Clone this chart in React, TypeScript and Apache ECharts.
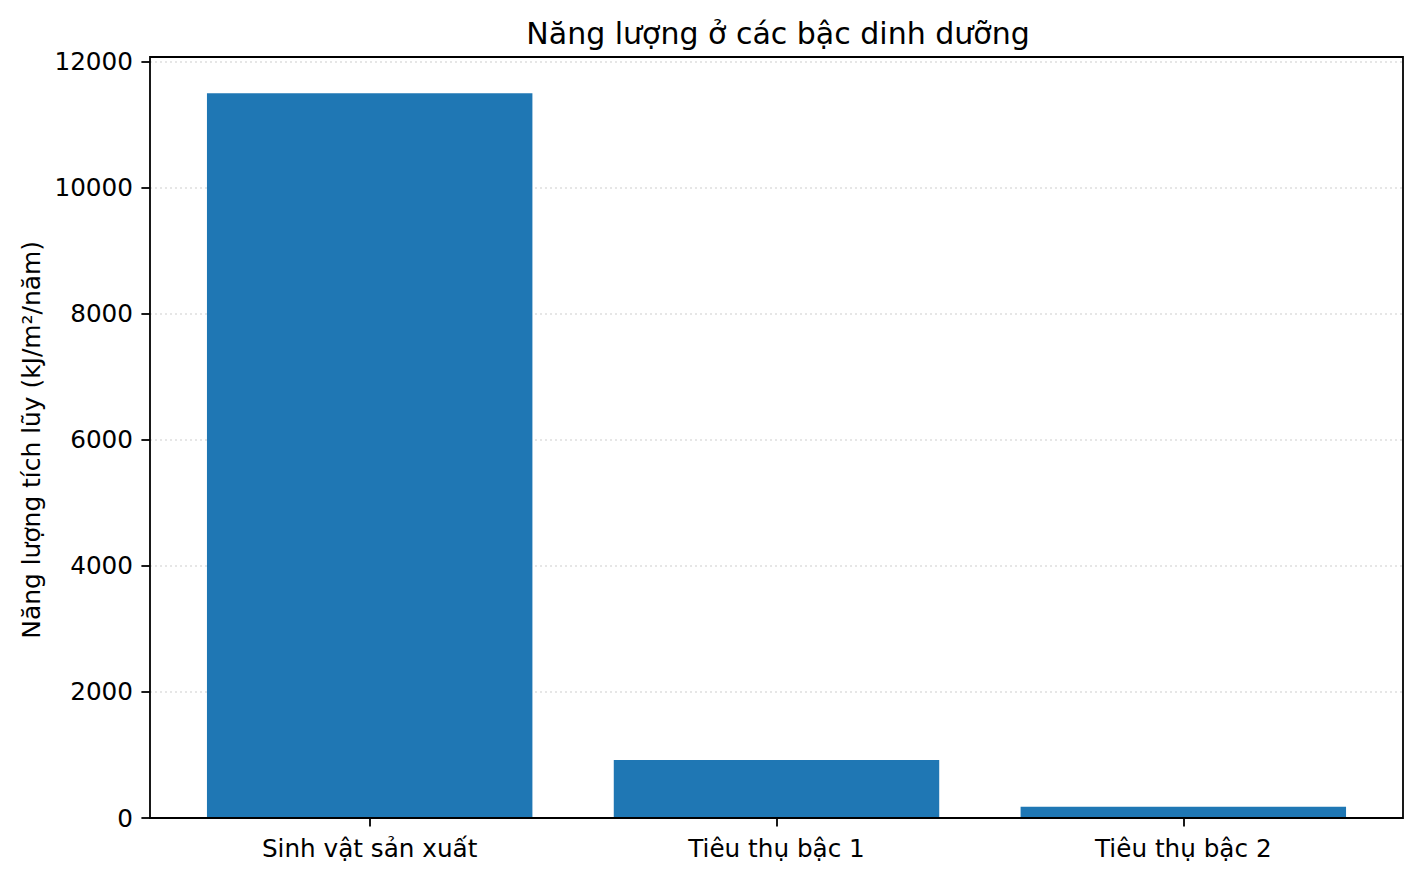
import { useEffect, useRef } from 'react';
import * as echarts from 'echarts';

const categories = ['Sinh vật sản xuất', 'Tiêu thụ bậc 1', 'Tiêu thụ bậc 2'];
const energy = [11500, 920, 180];

const FONT = '"DejaVu Sans", sans-serif';

// frame of the plot (matplotlib-like axes box)
const frame = { x: 150, y: 57, width: 1253, height: 761 };

export default function App() {
  const chartRef = useRef<HTMLDivElement>(null);

  useEffect(() => {
    if (!chartRef.current) return;
    document.body.style.margin = '0';

    const chart = echarts.init(chartRef.current, undefined, { renderer: 'svg' });

    // reference y range is 0..12075; the axis here stops at 12000
    const yTop = frame.y + frame.height * (75 / 12075);
    // reference x range is -0.54..2.54 around 3 bands (-0.5..2.5)
    const pad = (frame.width / 3.08) * 0.04;
    const right = 1421 - (frame.x + frame.width);
    const bottom = 879 - (frame.y + frame.height);

    const option: echarts.EChartsOption = {
      animation: false,
      backgroundColor: '#ffffff',
      title: {
        text: 'Năng lượng ở các bậc dinh dưỡng',
        left: 773,
        textAlign: 'center',
        top: 13,
        textStyle: {
          fontFamily: FONT,
          fontSize: 30,
          fontWeight: 'normal',
          color: '#000',
        },
      },
      grid: [
        { left: frame.x, right, top: yTop, bottom },
        { left: frame.x + pad, right: right + pad, top: yTop, bottom },
      ],
      xAxis: [
        { type: 'value', gridIndex: 0, min: 0, max: 1, show: false },
        {
          type: 'category',
          gridIndex: 1,
          data: categories,
          axisLine: { show: false },
          splitLine: { show: false },
          axisTick: {
            show: true,
            alignWithLabel: true,
            length: 8.6,
            lineStyle: { color: '#000', width: 1.8 },
          },
          axisLabel: {
            fontFamily: FONT,
            fontSize: 24.7,
            color: '#000',
            margin: 18,
          },
        },
      ],
      yAxis: [
        {
          type: 'value',
          gridIndex: 0,
          min: 0,
          max: 12000,
          interval: 2000,
          name: 'Năng lượng tích lũy (kJ/m²/năm)',
          nameLocation: 'middle',
          nameGap: 103,
          nameTextStyle: {
            fontFamily: FONT,
            fontSize: 24.9,
            color: '#000',
          },
          axisLine: { show: false },
          axisTick: {
            show: true,
            length: 8.6,
            lineStyle: { color: '#000', width: 1.8 },
          },
          axisLabel: {
            formatter: (v: number) => String(v),
            fontFamily: FONT,
            fontSize: 24.7,
            color: '#000',
            margin: 17,
          },
          splitLine: {
            show: true,
            lineStyle: { color: '#dedede', width: 1.6, type: [2, 3] },
          },
        },
        { type: 'value', gridIndex: 1, min: 0, max: 12000, show: false },
      ],
      series: [
        {
          type: 'bar',
          xAxisIndex: 1,
          yAxisIndex: 1,
          barWidth: '80%',
          itemStyle: { color: '#1f77b4' },
          data: energy,
        },
      ],
      graphic: [
        {
          type: 'rect',
          z: 100,
          silent: true,
          shape: frame,
          style: { fill: 'none', stroke: '#000', lineWidth: 1.8 },
        },
      ],
    };

    chart.setOption(option);

    return () => {
      chart.dispose();
    };
  }, []);

  return <div ref={chartRef} style={{ width: 1421, height: 879 }} />;
}
